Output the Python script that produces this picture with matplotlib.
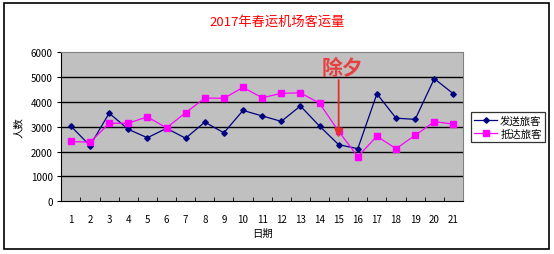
import numpy as np
import matplotlib
matplotlib.use("Agg")
import matplotlib.pyplot as plt
import matplotlib.patches as patches

plt.rcParams['font.family'] = ['Noto Sans CJK SC', 'DejaVu Sans']

days = list(range(1, 22))
depart = [3030, 2240, 3550, 2900, 2560, 2940, 2540, 3190, 2760, 3660, 3440,
          3220, 3840, 3030, 2280, 2120, 4330, 3350, 3300, 4940, 4330]
arrive = [2410, 2380, 3140, 3150, 3400, 2960, 3570, 4160, 4150, 4590, 4170,
          4350, 4370, 3950, 2820, 1800, 2620, 2120, 2660, 3210, 3110]
names = ["发送旅客", "抵达旅客"]
note_day = 15

fig = plt.figure(figsize=(5.54, 2.55), dpi=100)
fig.patch.set_facecolor("white")
# outer frame of the chart
fig.patches.append(patches.Rectangle((4 / 554, 5 / 255), 545 / 554, 246 / 255,
                                     fill=False, edgecolor="black", linewidth=1.2,
                                     transform=fig.transFigure))

ax = fig.add_axes([0.1107, 0.2067, 0.725, 0.584])
ax.set_facecolor("#C0C0C0")

ax.plot(days, depart, color="#000080", marker="D", markersize=2.8, linewidth=0.9, label=names[0])
ax.plot(days, arrive, color="#FF00FF", marker="s", markersize=4, linewidth=0.9, label=names[1])

ax.set_xlim(0.5, 21.5)
ax.set_ylim(0, 6000)
ax.set_yticks(np.arange(0, 6001, 1000))
for y in range(1000, 6000, 1000):
    ax.axhline(y, color="black", linewidth=1.0, zorder=0.5)

ax.set_xticks(days)
ax.set_xticks(np.arange(0.5, 22, 1), minor=True)
ax.tick_params(axis="x", which="major", length=0, pad=9, labelsize=7)
ax.tick_params(axis="x", which="minor", length=3, direction="in", color="black")
ax.tick_params(axis="y", length=3, direction="out", labelsize=7, pad=3)

for s in ["top", "right"]:
    ax.spines[s].set_color("#808080")
ax.spines["left"].set_color("black")
ax.spines["bottom"].set_color("black")

ax.set_xlabel("日期", fontsize=7.5, labelpad=3)
ax.set_ylabel("人数", fontsize=7.5, labelpad=5)

fig.text(0.5, 0.912, "2017年春运机场客运量", color="red", fontsize=9.5, ha="center", va="center")

# annotation for new year's eve
ax.annotate("", xy=(note_day, 2450), xytext=(note_day, 5000),
            arrowprops=dict(arrowstyle="-|>", color="#E03030", linewidth=1.3, mutation_scale=13),
            zorder=5)
ax.text(note_day + 0.2, 5400, "除夕", color="#E84040", fontsize=15, fontweight="bold",
        ha="center", va="center")

leg = fig.legend(loc="upper left", bbox_to_anchor=(471 / 554, 1 - 113 / 255), fontsize=7.5,
                 frameon=True, fancybox=False, edgecolor="black", borderpad=0.3,
                 handlelength=2.2, handletextpad=0.3, labelspacing=0.3, borderaxespad=0)
leg.get_frame().set_linewidth(0.9)

fig.savefig("out.png", dpi=100, facecolor="white")
